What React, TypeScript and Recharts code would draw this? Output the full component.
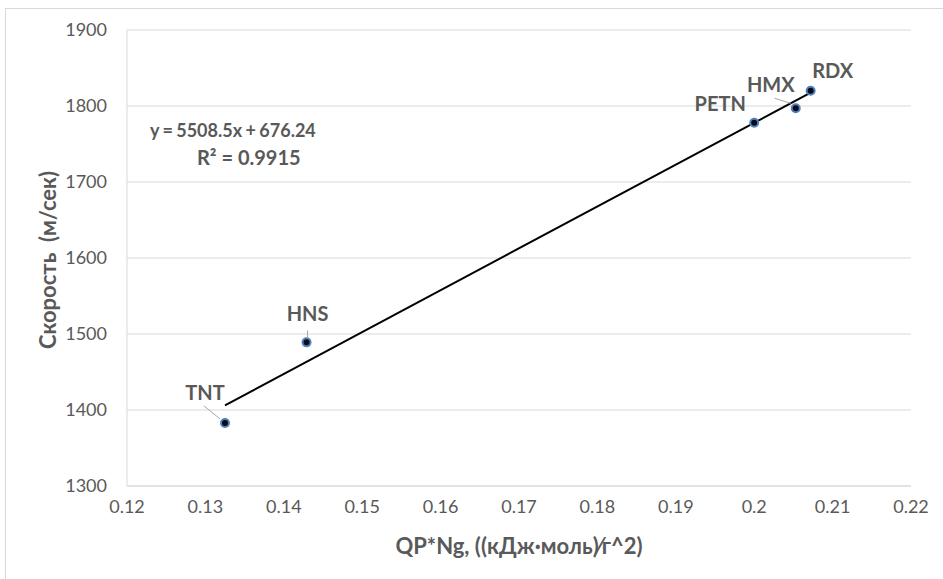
import React from 'react';
import { ScatterChart, Scatter, XAxis, YAxis, CartesianGrid, ReferenceLine, LabelList } from 'recharts';

const names = ['TNT', 'HNS', 'PETN', 'HMX', 'RDX'];
const qpNg = [0.1325, 0.1429, 0.2, 0.2053, 0.2072];
const speed = [1383, 1489, 1778, 1797, 1820];
const xTicks = [0.12, 0.13, 0.14, 0.15, 0.16, 0.17, 0.18, 0.19, 0.2, 0.21, 0.22];
const yTicks = [1300, 1400, 1500, 1600, 1700, 1800, 1900];
const slope = 5508.5;
const intercept = 676.24;
const r2 = 0.9915;

const data = names.map((n, i) => ({ name: n, x: qpNg[i], y: speed[i] }));
const trendX = [qpNg[0], qpNg[4]];

const labelStyle: Record<string, { dx: number; dy: number; lead?: [number, number, number, number] }> = {
  TNT: { dx: -20, dy: -31, lead: [-21, -17, -5, -4] },
  HNS: { dx: 1, dy: -29, lead: [1, -12, 1, -5] },
  PETN: { dx: -34, dy: -20 },
  HMX: { dx: -25, dy: -24, lead: [-21, -10, -5, -5] },
  RDX: { dx: 22, dy: -21 },
};

const GRAY = '#595959';
const FONT = 'Lato, "Open Sans", sans-serif';

const Dot = (props: any) => {
  const { cx, cy } = props;
  if (cx == null || cy == null) return null;
  return <circle cx={cx} cy={cy} r={4} fill="#0a0a14" stroke="#4f81bd" strokeWidth={2} />;
};

const PointLabel = (props: any) => {
  const { x, y, width, height, value } = props;
  const cx = x + (width || 0) / 2;
  const cy = y + (height || 0) / 2;
  const s = labelStyle[value] || { dx: 0, dy: -20 };
  return (
    <g>
      {s.lead && (
        <line x1={cx + s.lead[0]} y1={cy + s.lead[1]} x2={cx + s.lead[2]} y2={cy + s.lead[3]} stroke="#a6a6a6" strokeWidth={1} />
      )}
      <text x={cx + s.dx} y={cy + s.dy} textAnchor="middle" dominantBaseline="central" fill={GRAY} fontFamily={FONT} fontWeight={700} fontSize={20}>
        {value}
      </text>
    </g>
  );
};

const YTitle = () => (
  <text
    x={47}
    y={260}
    transform="rotate(-90 47 260)"
    textAnchor="middle"
    dominantBaseline="central"
    fill={GRAY}
    fontFamily={FONT}
    fontWeight={700}
    fontSize={22}
    style={{ whiteSpace: 'pre' }}
  >
    {'Скорость  (м/сек)'}
  </text>
);

export default function App() {
  return (
    <div style={{ position: 'absolute', left: 0, top: 0, width: 943, height: 579, overflow: 'hidden', background: '#fff' }}>
      <div style={{ position: 'absolute', left: 5, top: 8, width: 1200, height: 1200, border: '1px solid #d9d9d9' }} />
      <div style={{ position: 'absolute', left: 0, top: 0 }}>
        <ScatterChart width={943} height={579} margin={{ top: 30, right: 32, bottom: 63, left: 67 }}>
          <CartesianGrid vertical={false} stroke="#d9d9d9" />
          <XAxis
            type="number"
            dataKey="x"
            domain={[0.12, 0.22]}
            ticks={xTicks}
            tickFormatter={(v: number) => String(Number(v.toFixed(2)))}
            tickLine={false}
            axisLine={{ stroke: '#d9d9d9' }}
            height={30}
            tick={{ fill: GRAY, fontSize: 18, fontFamily: FONT }}
            tickMargin={8}
            label={{ value: 'QP*Ng, ((кДж·моль)⁄г^2)', position: 'insideBottom', offset: -38, fill: GRAY, fontSize: 22, fontWeight: 700, fontFamily: FONT }}
          />
          <YAxis
            type="number"
            dataKey="y"
            domain={[1300, 1900]}
            ticks={yTicks}
            tickLine={false}
            axisLine={{ stroke: '#d9d9d9' }}
            width={60}
            tick={{ fill: GRAY, fontSize: 18, fontFamily: FONT }}
            tickMargin={14}
            label={{ content: <YTitle /> }}
          />
          <ReferenceLine
            segment={[
              { x: trendX[0], y: slope * trendX[0] + intercept },
              { x: trendX[1], y: slope * trendX[1] + intercept },
            ]}
            stroke="#000"
            strokeWidth={2}
            ifOverflow="visible"
          />
          <Scatter data={data} shape={<Dot />} isAnimationActive={false}>
            <LabelList dataKey="name" content={<PointLabel />} />
          </Scatter>
        </ScatterChart>
      </div>
      <div style={{ position: 'absolute', left: 150, top: 117, whiteSpace: 'nowrap', color: GRAY, fontFamily: FONT, fontWeight: 700, fontSize: 18, lineHeight: '26px', wordSpacing: -1 }}>
        y = {slope}x + {intercept}
      </div>
      <div style={{ position: 'absolute', left: 197, top: 143, whiteSpace: 'nowrap', color: GRAY, fontFamily: FONT, fontWeight: 700, fontSize: 20, lineHeight: '28px' }}>
        R² = {r2}
      </div>
    </div>
  );
}
